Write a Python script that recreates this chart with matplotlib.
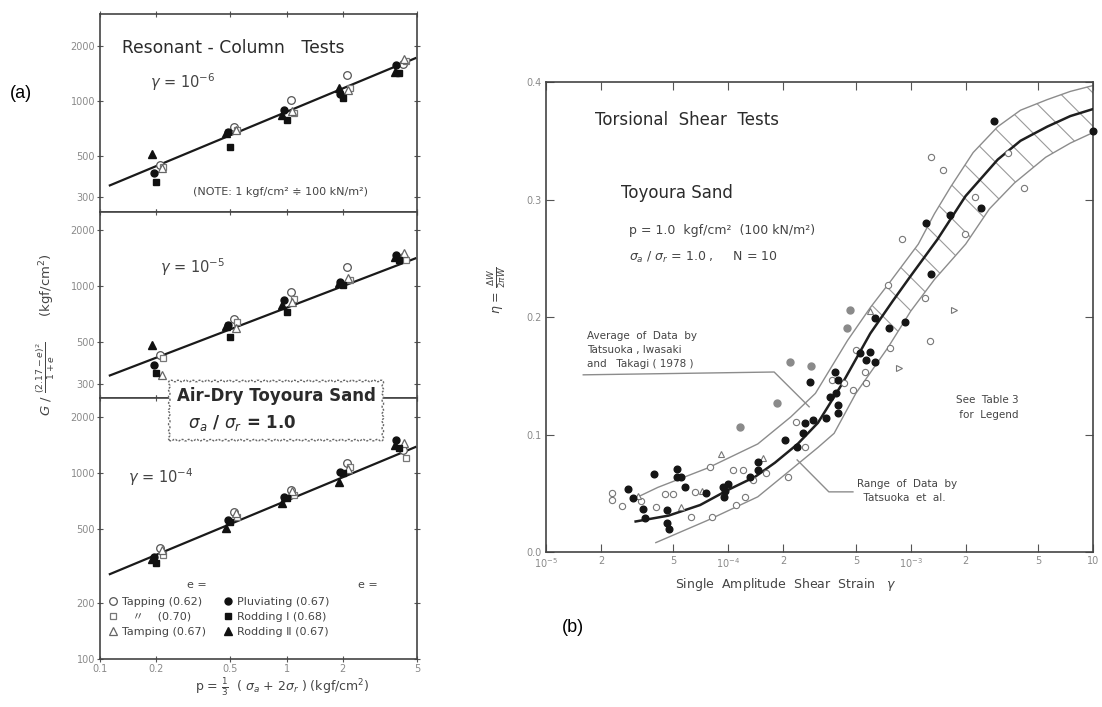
import matplotlib
matplotlib.use("Agg")
import matplotlib.pyplot as plt
import numpy as np
from matplotlib.patches import Polygon
from matplotlib.ticker import NullLocator, NullFormatter

plt.rcParams["font.family"] = ["DejaVu Sans", "Noto Sans CJK JP"]
plt.rcParams["mathtext.fontset"] = "dejavusans"
plt.rcParams["hatch.linewidth"] = 0.8

# ---------------- (a) resonant-column data ----------------
pressure = [0.2, 0.5, 1.0, 2.0, 4.0]
p_ticks = [0.1, 0.2, 0.5, 1, 2, 5]
p_tick_labels = ["0.1", "0.2", "0.5", "1", "2", "5"]

series_labels = ["Tapping (0.62)", "   〃    (0.70)", "Tamping (0.67)",
                 "Pluviating (0.67)", "Rodding Ⅰ (0.68)", "Rodding Ⅱ (0.67)"]

# rows follow series_labels, columns follow pressure
g_gamma6 = [[447, 720, 1013, 1387, 1600],
            [440, 694, 860, 1180, 1655],
            [430, 700, 880, 1150, 1700],
            [404, 680, 893, 1096, 1570],
            [361, 560, 787, 1038, 1420],
            [513, 668, 838, 1178, 1440]]
g_gamma5 = [[426, 665, 928, 1265, 1440],
            [410, 640, 860, 1077, 1390],
            [333, 595, 820, 1104, 1504],
            [376, 617, 841, 1050, 1468],
            [341, 532, 725, 1012, 1379],
            [482, 610, 790, 1038, 1432]]
g_gamma4 = [[395, 617, 810, 1132, 1330],
            [362, 580, 762, 1077, 1205],
            [386, 610, 800, 1050, 1450],
            [354, 559, 743, 1013, 1505],
            [329, 545, 734, 1000, 1362],
            [345, 506, 690, 895, 1414]]

fit_p = [0.113, 4.9]
fit_gamma6 = [347, 1718]
fit_gamma5 = [332, 1415]
fit_gamma4 = [286, 1380]

# ---------------- (b) torsional shear data ----------------
strain_ticks = [1e-5, 2e-5, 5e-5, 1e-4, 2e-4, 5e-4, 1e-3, 2e-3, 5e-3, 1e-2]
strain_tick_labels = [r"$10^{-5}$", "2", "5", r"$10^{-4}$", "2", "5",
                      r"$10^{-3}$", "2", "5", "10"]

avg_strain = [3.1e-5, 4.7e-5, 7e-5, 1e-4, 1.4e-4, 1.8e-4, 2.4e-4, 3.1e-4, 4.2e-4, 6e-4,
              8e-4, 1e-3, 1.4e-3, 2e-3, 3e-3, 4e-3, 5.6e-3, 7.5e-3, 1e-2]
avg_eta = [0.026, 0.031, 0.040, 0.053, 0.064, 0.076, 0.092, 0.11, 0.143, 0.186,
           0.214, 0.235, 0.266, 0.303, 0.334, 0.350, 0.362, 0.371, 0.377]
upper_strain = [3.3e-5, 4.1e-5, 7.7e-5, 1.45e-4, 2.2e-4, 3e-4, 4.5e-4, 6e-4, 7.8e-4,
                1.1e-3, 1.35e-3, 1.66e-3, 2.2e-3, 3e-3, 4e-3, 5.6e-3, 7.5e-3, 1e-2]
upper_eta = [0.048, 0.055, 0.0715, 0.092, 0.115, 0.135, 0.18, 0.208, 0.231, 0.262,
             0.288, 0.311, 0.340, 0.362, 0.376, 0.385, 0.392, 0.397]
lower_strain = [4e-5, 7.7e-5, 1.45e-4, 2.2e-4, 3.1e-4, 3.8e-4, 5e-4, 7.5e-4, 1e-3,
                1.35e-3, 2e-3, 2.7e-3, 3.7e-3, 5.5e-3, 7.5e-3, 1e-2]
lower_eta = [0.008, 0.027, 0.047, 0.07, 0.089, 0.101, 0.135, 0.174, 0.205,
             0.232, 0.262, 0.292, 0.314, 0.336, 0.348, 0.357]

filled_strain = [2.8e-5, 3.0e-5, 3.4e-5, 3.5e-5, 3.9e-5, 4.6e-5, 4.6e-5, 4.7e-5, 5.2e-5,
                 5.2e-5, 5.5e-5, 5.8e-5, 7.5e-5, 9.3e-5, 9.6e-5, 9.9e-5, 9.5e-5, 1.31e-4,
                 1.45e-4, 1.45e-4, 2.04e-4, 2.37e-4, 2.56e-4, 2.63e-4, 2.9e-4, 2.8e-4,
                 3.42e-4, 3.6e-4, 3.9e-4, 4.0e-4, 4.0e-4, 3.83e-4, 4.0e-4, 5.3e-4, 5.7e-4,
                 6.0e-4, 6.35e-4, 6.35e-4, 7.6e-4, 9.3e-4, 1.22e-3, 1.29e-3, 1.64e-3,
                 2.42e-3, 2.88e-3, 1.0e-2]
filled_eta = [0.054, 0.046, 0.037, 0.029, 0.066, 0.036, 0.025, 0.020, 0.071,
              0.064, 0.064, 0.055, 0.050, 0.055, 0.052, 0.058, 0.047, 0.064,
              0.077, 0.070, 0.095, 0.089, 0.101, 0.110, 0.112, 0.145,
              0.114, 0.132, 0.135, 0.125, 0.118, 0.153, 0.146, 0.169, 0.163,
              0.170, 0.162, 0.199, 0.191, 0.196, 0.280, 0.237, 0.287,
              0.293, 0.367, 0.358]
gray_strain = [1.16e-4, 1.84e-4, 2.17e-4, 2.83e-4, 4.45e-4, 4.63e-4]
gray_eta = [0.106, 0.127, 0.162, 0.158, 0.191, 0.206]
open_strain = [2.3e-5, 2.3e-5, 2.6e-5, 3.3e-5, 4.0e-5, 4.5e-5, 5.0e-5, 6.2e-5, 6.6e-5,
               7.9e-5, 8.1e-5, 1.06e-4, 1.1e-4, 1.2e-4, 1.23e-4, 1.36e-4, 1.6e-4,
               2.12e-4, 2.34e-4, 2.63e-4, 3.7e-4, 4.3e-4, 4.8e-4, 5.0e-4, 5.6e-4,
               5.7e-4, 7.5e-4, 7.7e-4, 9.0e-4, 1.2e-3, 1.27e-3, 1.98e-3, 2.25e-3,
               3.4e-3, 4.2e-3, 1.29e-3, 1.5e-3]
open_eta = [0.050, 0.044, 0.039, 0.043, 0.038, 0.049, 0.049, 0.030, 0.051,
            0.072, 0.030, 0.070, 0.040, 0.070, 0.047, 0.061, 0.067,
            0.064, 0.111, 0.089, 0.146, 0.144, 0.138, 0.172, 0.153,
            0.144, 0.227, 0.174, 0.266, 0.216, 0.180, 0.271, 0.302,
            0.340, 0.310, 0.336, 0.325]
tri_strain = [3.2e-5, 5.5e-5, 7.2e-5, 9.1e-5, 1.55e-4, 6.0e-4]
tri_eta = [0.048, 0.038, 0.052, 0.083, 0.080, 0.205]
rtri_strain = [8.6e-4, 1.72e-3]
rtri_eta = [0.157, 0.206]

INK = "#2b2b2b"
TICK = "#8a8a8a"

styles = [
    dict(marker="o", mfc="white", mec="#555555", ms=5.5, mew=0.9),
    dict(marker="s", mfc="white", mec="#777777", ms=5, mew=0.9),
    dict(marker="^", mfc="white", mec="#666666", ms=5.5, mew=0.9),
    dict(marker="o", mfc="#111111", mec="#111111", ms=5),
    dict(marker="s", mfc="#111111", mec="#111111", ms=4.5),
    dict(marker="^", mfc="#111111", mec="#111111", ms=5.5),
]
offsets = [1.05, 1.09, 1.07, 0.97, 1.0, 0.95]

fig = plt.figure(figsize=(11.02, 7.07), dpi=100)

ax_top = fig.add_axes([0.0907, 0.700, 0.2877, 0.280])
ax_mid = fig.add_axes([0.0907, 0.437, 0.2877, 0.263])
ax_bot = fig.add_axes([0.0907, 0.0679, 0.2877, 0.369])


def draw_panel(ax, values, fit_vals, ylim, yticks, show_x):
    ax.set_xscale("log")
    ax.set_yscale("log")
    ax.plot(fit_p, fit_vals, color="#1a1a1a", lw=1.6, zorder=2)
    for vals, st, dx, lab in zip(values, styles, offsets, series_labels):
        ax.plot(np.array(pressure) * dx, vals, ls="none", label=lab, zorder=3, **st)
    ax.set_xlim(0.1, 5)
    ax.set_ylim(*ylim)
    ax.set_yticks(yticks)
    ax.set_yticklabels([str(t) for t in yticks])
    ax.yaxis.set_minor_locator(NullLocator())
    ax.yaxis.set_minor_formatter(NullFormatter())
    ax.set_xticks(p_ticks)
    ax.xaxis.set_minor_locator(NullLocator())
    if show_x:
        ax.set_xticklabels(p_tick_labels)
    else:
        ax.set_xticklabels([])
    ax.tick_params(axis="both", direction="inout", length=5, width=0.8, color="#555555",
                   labelsize=7, labelcolor=TICK, top=True, right=True, pad=1)
    for sp in ax.spines.values():
        sp.set_color("#444444")
        sp.set_linewidth(1.2)


draw_panel(ax_top, g_gamma6, fit_gamma6, (248, 2990), [300, 500, 1000, 2000], False)
draw_panel(ax_mid, g_gamma5, fit_gamma5, (251, 2510), [300, 500, 1000, 2000], False)
draw_panel(ax_bot, g_gamma4, fit_gamma4, (100, 2530), [100, 200, 500, 1000, 2000], True)

ax_top.text(0.069, 0.828, "Resonant - Column   Tests", transform=ax_top.transAxes,
            fontsize=12.3, color=INK, va="center")
ax_top.text(0.158, 0.657, r"$\gamma$ = 10$^{-6}$", transform=ax_top.transAxes,
            fontsize=10.5, color="#444444", va="center")
ax_top.text(0.293, 0.101, "(NOTE: 1 kgf/cm² ≑ 100 kN/m²)", transform=ax_top.transAxes,
            fontsize=8, color="#444444", va="center")
ax_mid.text(0.189, 0.704, r"$\gamma$ = 10$^{-5}$", transform=ax_mid.transAxes,
            fontsize=10.5, color="#444444", va="center")
ax_bot.text(0.088, 0.697, r"$\gamma$ = 10$^{-4}$", transform=ax_bot.transAxes,
            fontsize=10.5, color="#444444", va="center")
ax_bot.text(0.306, 0.284, "e =", transform=ax_bot.transAxes, fontsize=8,
            color="#444444", ha="center", va="center")
ax_bot.text(0.845, 0.284, "e =", transform=ax_bot.transAxes, fontsize=8,
            color="#444444", ha="center", va="center")
ax_bot.legend(loc="upper left", bbox_to_anchor=(0.0, 0.265), ncol=2, frameon=False,
              fontsize=8, handletextpad=0.2, columnspacing=1.4, labelspacing=0.45,
              handlelength=1.2, borderaxespad=0.2, labelcolor="#444444")

fig.text(0.2505, 0.42, "Air-Dry Toyoura Sand\n" + r"  $\sigma_a$ / $\sigma_r$ = 1.0",
         fontsize=12, color=INK, ha="center", va="center", multialignment="left",
         fontweight="semibold", linespacing=1.5, zorder=10,
         bbox=dict(boxstyle="roundtooth,pad=0.55,tooth_size=0.22", fc="white",
                   ec="#666666", lw=1.0, ls=(0, (1.5, 1))))

fig.text(0.041, 0.526, r"$G\ /\ \frac{(2.17-e)^2}{1+e}$      (kgf/cm$^2$)",
         rotation=90, fontsize=9.5, color="#444444", ha="center", va="center")
fig.text(0.256, 0.028, r"p = $\frac{1}{3}$  ( $\sigma_a$ + 2$\sigma_r$ ) (kgf/cm$^2$)",
         fontsize=9, color="#444444", ha="center", va="center")

fig.text(0.009, 0.868, "(a)", fontsize=13, family="Liberation Sans", va="center")
fig.text(0.51, 0.113, "(b)", fontsize=13, family="Liberation Sans", va="center")

# ---------------- (b) panel ----------------
ax = fig.add_axes([0.4955, 0.2192, 0.4964, 0.6648])
ax.set_xscale("log")
ax.set_xlim(1e-5, 1e-2)
ax.set_ylim(0, 0.4)

band_x = [s for s in upper_strain if s >= 6e-4] + [s for s in lower_strain if s >= 7e-4][::-1]
band_y = [e for s, e in zip(upper_strain, upper_eta) if s >= 6e-4] + \
         [e for s, e in zip(lower_strain, lower_eta) if s >= 7e-4][::-1]
ax.add_patch(Polygon(np.column_stack([band_x, band_y]), closed=True, fill=False,
                     hatch="\\", edgecolor="#9a9a9a", lw=0, zorder=1))
ax.plot(upper_strain, upper_eta, color="#8c8c8c", lw=1.0, zorder=2)
ax.plot(lower_strain, lower_eta, color="#8c8c8c", lw=1.0, zorder=2)
ax.plot(avg_strain, avg_eta, color="#1f1f1f", lw=1.8, zorder=3)

ax.plot(open_strain, open_eta, ls="none", marker="o", mfc="white", mec="#777777",
        ms=4.5, mew=0.8, zorder=4)
ax.plot(tri_strain, tri_eta, ls="none", marker="^", mfc="white", mec="#777777",
        ms=4.5, mew=0.8, zorder=4)
ax.plot(rtri_strain, rtri_eta, ls="none", marker=">", mfc="white", mec="#777777",
        ms=4.5, mew=0.8, zorder=4)
ax.plot(gray_strain, gray_eta, ls="none", marker="o", mfc="#8a8a8a", mec="#8a8a8a",
        ms=5, zorder=4)
ax.plot(filled_strain, filled_eta, ls="none", marker="o", mfc="#151515", mec="#151515",
        ms=4.8, zorder=5, clip_on=False)

ax.set_xticks(strain_ticks)
ax.set_xticklabels(strain_tick_labels)
ax.xaxis.set_minor_locator(NullLocator())
ax.set_yticks([0.0, 0.1, 0.2, 0.3, 0.4])
ax.set_yticklabels(["0.0", "0.1", "0.2", "0.3", "0.4"])
ax.tick_params(axis="both", direction="in", length=6, width=0.8, color="#555555",
               labelsize=7, labelcolor=TICK, top=True, right=True, pad=3)
for sp in ax.spines.values():
    sp.set_color("#444444")
    sp.set_linewidth(1.2)

ax.text(0.09, 0.919, "Torsional  Shear  Tests", transform=ax.transAxes, fontsize=12,
        color=INK, va="center")
ax.text(0.137, 0.764, "Toyoura Sand", transform=ax.transAxes, fontsize=12,
        color=INK, va="center")
ax.text(0.152, 0.685, "p = 1.0  kgf/cm²  (100 kN/m²)", transform=ax.transAxes,
        fontsize=9, color="#444444", va="center")
ax.text(0.152, 0.626, r"$\sigma_a$ / $\sigma_r$ = 1.0 ,     N = 10", transform=ax.transAxes,
        fontsize=9, color="#444444", va="center")
ax.text(0.075, 0.43, "Average  of  Data  by\nTatsuoka , Iwasaki\nand   Takagi ( 1978 )",
        transform=ax.transAxes, fontsize=7.5, color="#444444", va="center",
        linespacing=1.45)
ax.plot([0.068, 0.417, 0.481], [0.377, 0.383, 0.309], transform=ax.transAxes,
        color="#8c8c8c", lw=1.0)
ax.text(0.569, 0.13, "Range  of  Data  by\n  Tatsuoka  et  al.",
        transform=ax.transAxes, fontsize=7.5, color="#444444", va="center",
        linespacing=1.45)
ax.plot([0.459, 0.517, 0.561], [0.196, 0.128, 0.128], transform=ax.transAxes,
        color="#8c8c8c", lw=1.0)
ax.text(0.75, 0.307, "See  Table 3\n for  Legend", transform=ax.transAxes,
        fontsize=7.5, color="#444444", va="center", linespacing=1.6)

fig.text(0.451, 0.59, r"$\eta$ = $\frac{\Delta W}{2\pi W}$", rotation=90, fontsize=9,
         color="#444444", ha="center", va="center")
fig.text(0.713, 0.173, r"Single  Amplitude  Shear  Strain   $\gamma$", fontsize=9,
         color="#444444", ha="center", va="center")

fig.savefig("out.png", dpi=100)
